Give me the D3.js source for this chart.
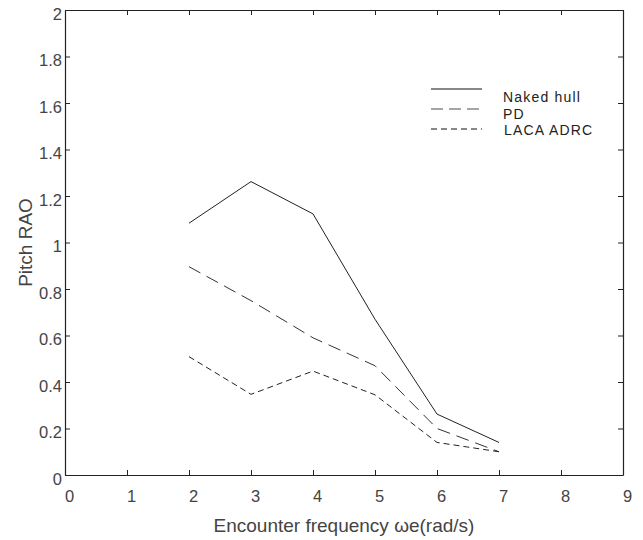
<!DOCTYPE html>
<html>
<head>
<meta charset="utf-8">
<script src="https://cdn.jsdelivr.net/npm/d3@7"></script>
<style>
  body { margin: 0; background: #fff; }
  text { font-family: 'Liberation Sans', Arial, sans-serif; }
</style>
</head>
<body>
<div id="chart"></div>
<script>
const freqs = [2, 3, 4, 5, 6, 7];
const nakedHull = [1.083, 1.262, 1.123, 0.67, 0.262, 0.14];
const pd = [0.896, 0.75, 0.59, 0.47, 0.20, 0.10];
const lacaAdrc = [0.509, 0.347, 0.447, 0.345, 0.14, 0.10];
const xTicks = [0, 1, 2, 3, 4, 5, 6, 7, 8, 9];
const yTicks = [0, 0.2, 0.4, 0.6, 0.8, 1, 1.2, 1.4, 1.6, 1.8, 2];

const series = [
    { name: 'Naked hull', values: nakedHull, dash: null, color: '#222' },
    { name: 'PD', values: pd, dash: '13,7', color: '#333' },
    { name: 'LACA ADRC', values: lacaAdrc, dash: '6,4', color: '#222' }
];

const W = 643, H = 540;
const margin = { top: 10, right: 20, bottom: 65, left: 65 };
const width = W - margin.left - margin.right;
const height = H - margin.top - margin.bottom;

const svg = d3.select('#chart').append('svg')
    .attr('width', W).attr('height', H);
const g = svg.append('g').attr('transform', `translate(${margin.left},${margin.top})`);

const x = d3.scaleLinear().domain([0, 9]).range([0, width]);
const y = d3.scaleLinear().domain([0, 2]).range([height, 0]);

const fmt = d => d3.format('~g')(d);

// bottom axis, ticks inward
const xAxis = g.append('g').attr('transform', `translate(0,${height})`)
    .call(d3.axisBottom(x).tickValues(xTicks).tickFormat(fmt).tickSizeInner(-5).tickSizeOuter(0).tickPadding(15));
xAxis.selectAll('.tick text').attr('dx', 4);
// left axis
const yAxis = g.append('g')
    .call(d3.axisLeft(y).tickValues(yTicks).tickFormat(fmt).tickSizeInner(-5).tickSizeOuter(0).tickPadding(3));
yAxis.selectAll('.tick text').attr('transform', 'translate(0,4)');
// top and right
g.append('g').call(d3.axisTop(x).tickValues(xTicks).tickFormat('').tickSizeInner(-5).tickSizeOuter(0));
g.append('g').attr('transform', `translate(${width},0)`)
    .call(d3.axisRight(y).tickValues(yTicks).tickFormat('').tickSizeInner(-5).tickSizeOuter(0));

g.selectAll('.domain').attr('stroke', '#222').attr('stroke-width', 1.2);
g.selectAll('.tick line').attr('stroke', '#222');
g.selectAll('.tick text').attr('fill', '#444').style('font-size', '16.5px');

const line = d3.line().x((d, i) => x(freqs[i])).y(d => y(d));

series.forEach(s => {
    g.append('path')
        .datum(s.values)
        .attr('d', line)
        .attr('fill', 'none')
        .attr('stroke', s.color)
        .attr('stroke-width', 1)
        .attr('stroke-dasharray', s.dash);
});

// legend
const legend = g.append('g').attr('transform', 'translate(366,79)');
const textDx = [72, 72, 73];
const textDy = [13, 30, 46];
series.forEach((s, i) => {
    const yy = i * 20;
    legend.append('line')
        .attr('x1', 0).attr('x2', 51).attr('y1', yy).attr('y2', yy)
        .attr('stroke', i === 1 ? '#888' : '#111')
        .attr('stroke-width', i === 1 ? 1.5 : 1)
        .attr('stroke-dasharray', i === 1 ? '12,6' : (i === 2 ? '6,4' : null));
    legend.append('text')
        .attr('x', textDx[i]).attr('y', textDy[i])
        .attr('fill', '#222')
        .style('font-size', '14px')
        .style('letter-spacing', '1.2px')
        .text(s.name);
});

// axis titles
svg.append('text')
    .attr('x', margin.left + width / 2).attr('y', 532)
    .attr('text-anchor', 'middle').attr('fill', '#444')
    .style('font-size', '19px')
    .text('Encounter frequency ωe(rad/s)');
svg.append('text')
    .attr('transform', `translate(32,${margin.top + height / 2}) rotate(-90)`)
    .attr('text-anchor', 'middle').attr('fill', '#444')
    .style('font-size', '19px')
    .text('Pitch RAO');
</script>
</body>
</html>
